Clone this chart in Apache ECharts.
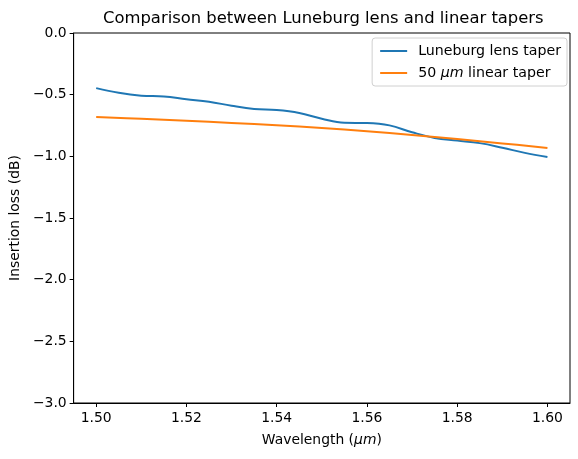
<!DOCTYPE html>
<html>
<head>
<meta charset="utf-8">
<script src="https://cdn.jsdelivr.net/npm/echarts@6/dist/echarts.min.js"></script>
<style>html,body{margin:0;padding:0;background:#fff}#c{width:578px;height:459px}</style>
</head>
<body>
<div id="c"></div>
<script>
const wavelengthLuneburg = [1.500,1.505,1.510,1.515,1.520,1.525,1.530,1.535,1.540,1.545,1.550,1.555,1.560,1.565,1.570,1.575,1.580,1.585,1.590,1.595,1.600];
const lossLuneburg = [-0.447,-0.485,-0.508,-0.515,-0.537,-0.557,-0.590,-0.616,-0.624,-0.648,-0.695,-0.728,-0.730,-0.749,-0.805,-0.851,-0.872,-0.893,-0.930,-0.972,-1.005];
const wavelengthLinear = [1.50,1.51,1.52,1.53,1.54,1.55,1.56,1.57,1.58,1.59,1.60];
const lossLinear = [-0.682,-0.696,-0.711,-0.729,-0.748,-0.770,-0.797,-0.827,-0.860,-0.895,-0.932];
const xTicks = [1.50,1.52,1.54,1.56,1.58,1.60];
const seriesNames = ['Luneburg lens taper','50 μm linear taper'];

const font = 'DejaVu Sans';
const fs = 13.9;
const lfs = 14.2;
const chart = echarts.init(document.getElementById('c'));
chart.setOption({
  animation: false,
  backgroundColor: '#fff',
  title: {
    text: 'Comparison between Luneburg lens and linear tapers',
    left: 98, top: 6,
    textStyle: {fontFamily: font, fontSize: 16.4, fontWeight: 'normal', color: '#000'}
  },
  legend: {
    right: 11, top: 38, orient: 'vertical',
    data: seriesNames,
    icon: 'rect', itemWidth: 27, itemHeight: 2, itemGap: 8,
    padding: [6, 6, 6, 8],
    borderColor: '#d0d0d0', borderWidth: 1, borderRadius: 3,
    backgroundColor: 'rgba(255,255,255,0.8)',
    textStyle: {fontFamily: font, fontSize: lfs, color: '#000', padding: [0, 0, 0, 6],
      rich: {i: {fontFamily: font, fontStyle: 'italic', fontSize: lfs, color: '#000'}}},
    formatter: function (n) { return n.startsWith('50') ? '50 {i|μm} linear taper' : n; }
  },
  grid: {left: 72, right: 8, top: 33, bottom: 56, show: true, borderColor: '#000', borderWidth: 1, containLabel: false},
  xAxis: {
    type: 'value', min: 1.495, max: 1.605,
    name: 'Wavelength ({i|μm})', nameLocation: 'middle', nameGap: 30,
    nameTextStyle: {fontFamily: font, fontSize: fs, color: '#000',
      rich: {i: {fontFamily: font, fontStyle: 'italic', fontSize: fs, color: '#000'}}},
    axisLine: {show: true, onZero: false, lineStyle: {color: '#000', width: 1}},
    axisTick: {show: true, inside: false, length: 4, customValues: xTicks, lineStyle: {color: '#000'}},
    axisLabel: {customValues: xTicks, fontFamily: font, fontSize: fs, color: '#000', margin: 8,
      formatter: v => v.toFixed(2)},
    splitLine: {show: false}
  },
  yAxis: {
    type: 'value', min: -3, max: 0, interval: 0.5,
    name: 'Insertion loss (dB)', nameLocation: 'middle', nameGap: 47, nameRotate: 90,
    nameTextStyle: {fontFamily: font, fontSize: fs, color: '#000'},
    axisLine: {show: true, onZero: false, lineStyle: {color: '#000', width: 1}},
    axisTick: {show: true, inside: false, length: 4, lineStyle: {color: '#000'}},
    axisLabel: {fontFamily: font, fontSize: fs, color: '#000', margin: 7,
      formatter: v => (v < 0 ? '\u2212' : '') + Math.abs(v).toFixed(1)},
    splitLine: {show: false}
  },
  series: [
    {name: seriesNames[0], type: 'line', smooth: 0.4, showSymbol: false, symbol: 'none',
      data: wavelengthLuneburg.map((x, i) => [x, lossLuneburg[i]]),
      lineStyle: {color: '#1f77b4', width: 2}, itemStyle: {color: '#1f77b4'}},
    {name: seriesNames[1], type: 'line', smooth: 0.4, showSymbol: false, symbol: 'none',
      data: wavelengthLinear.map((x, i) => [x, lossLinear[i]]),
      lineStyle: {color: '#ff7f0e', width: 2}, itemStyle: {color: '#ff7f0e'}}
  ]
});
</script>
</body>
</html>
